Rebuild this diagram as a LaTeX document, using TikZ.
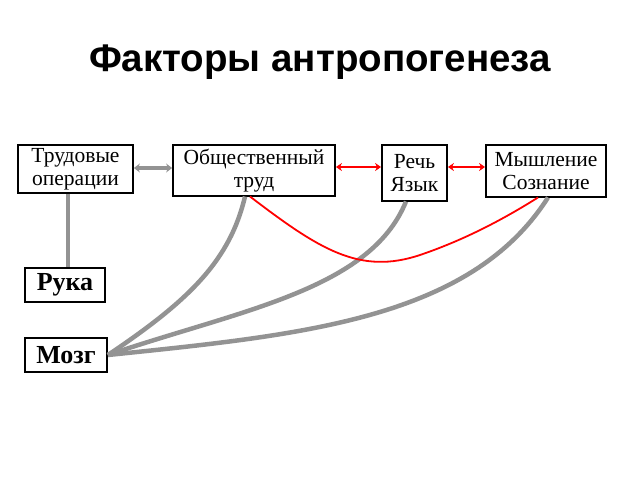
\documentclass[tikz,border=0pt]{standalone}
\usepackage{fontspec}
\setmainfont{Liberation Serif}
\newfontfamily\titlefont{Liberation Sans}
\usetikzlibrary{arrows.meta}
\begin{document}
\begin{tikzpicture}[x=1pt,y=-1pt,
  box/.style={draw,line width=1.8pt,fill=white,inner sep=0pt,align=center,font=\fontsize{21.5}{22.5}\selectfont},
  gray/.style={draw=gray!85,line width=4.5pt},
  redl/.style={draw=red,line width=1.8pt}]
\useasboundingbox (0,0) rectangle (640,480);
\node[font=\titlefont\bfseries\fontsize{38.5}{40}\selectfont] (title) at (320,62) {Факторы антропогенеза};
\node[box,minimum width=115,minimum height=48] (tr) at (75.5,169) {Трудовые\\операции};
\node[box,minimum width=162,minimum height=51] (ob) at (254,170.5) {Общественный\\труд};
\node[box,minimum width=65,minimum height=56] (re) at (414.5,173) {Речь\\Язык};
\node[box,minimum width=120,minimum height=52] (my) at (546,171) {Мышление\\Сознание};
\node[box,minimum width=80,minimum height=34,font=\bfseries\fontsize{26}{26}\selectfont] (ru) at (65,285) {Рука};
\node[box,minimum width=82,minimum height=34,font=\bfseries\fontsize{26}{26}\selectfont] (mo) at (66,355) {Мозг};
\coordinate (obb) at (245,196.5);
\coordinate (reb) at (406,201.5);
\coordinate (myb) at (548,197.5);
\draw[gray,{Stealth[length=6pt,width=9pt]}-{Stealth[length=6pt,width=9pt]}] (tr.east|-0,168) -- (ob.west|-0,168);
\draw[gray] (tr.south-|68,0) -- (ru.north-|68,0);
\draw[gray] (mo.east) .. controls (190,300) and (230,260) .. (obb);
\draw[gray] (mo.east) .. controls (240,310) and (370,290) .. (reb);
\draw[gray] (mo.east) .. controls (300,335) and (470,320) .. (myb);
\draw[redl,{Stealth[length=6pt,width=8pt]}-{Stealth[length=6pt,width=8pt]}] (ob.east|-0,167) -- (re.west|-0,167);
\draw[redl,{Stealth[length=6pt,width=8pt]}-{Stealth[length=6pt,width=8pt]}] (re.east|-0,167) -- (my.west|-0,167);
\draw[redl] (250,196.5) .. controls (320,250) and (360,275) .. (420,255) .. controls (470,238) and (510,215) .. (538,197.5);
\end{tikzpicture}
\end{document}
